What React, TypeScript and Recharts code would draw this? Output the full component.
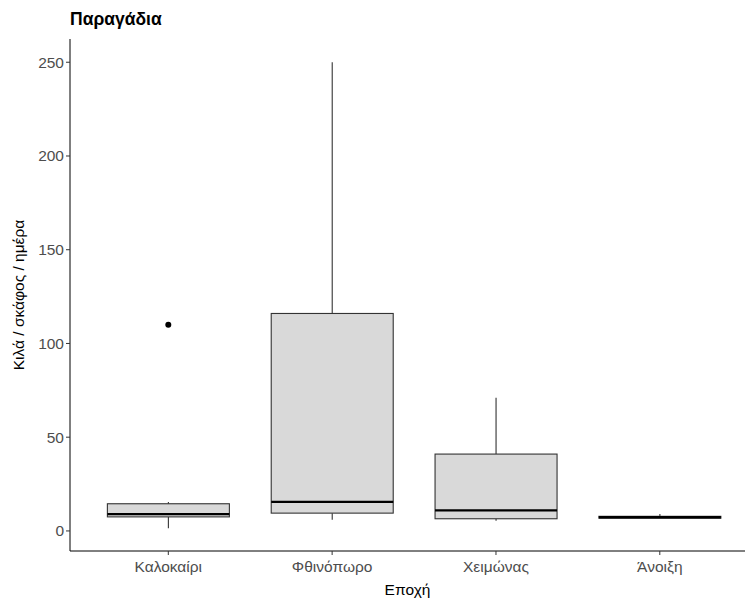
import React from 'react';
import { ComposedChart, Bar, Scatter, XAxis, YAxis } from 'recharts';

const seasons = ['Καλοκαίρι', 'Φθινόπωρο', 'Χειμώνας', 'Άνοιξη'];
const mins = [1.5, 6, 5.5, 6.8];
const q1s = [7.5, 9.5, 6.5, 6.8];
const medians = [9, 15.5, 11, 7.3];
const q3s = [14.5, 116, 41, 7.8];
const maxs = [15.5, 250, 71, 9];
const outliers = [{ pos: 1, value: 110 }];
const yTicks = [0, 50, 100, 150, 200, 250];

const boxData = seasons.map((s, i) => ({
  pos: i + 1,
  season: s,
  min: mins[i],
  q1: q1s[i],
  median: medians[i],
  q3: q3s[i],
  max: maxs[i],
  range: [mins[i], maxs[i]],
}));

const BoxShape = (props: any) => {
  const { x, y, width, height, payload } = props;
  const { min, q1, median, q3, max } = payload;
  const py = (v: number) => y + (height * (max - v)) / (max - min);
  const cx = x + width / 2;
  return (
    <g>
      <line x1={cx} x2={cx} y1={py(max)} y2={py(q3)} stroke="#333" strokeWidth={1.1} />
      <line x1={cx} x2={cx} y1={py(q1)} y2={py(min)} stroke="#333" strokeWidth={1.1} />
      <rect x={x} y={py(q3)} width={width} height={Math.max(py(q1) - py(q3), 0.5)} fill="#d9d9d9" stroke="#333" strokeWidth={1.1} />
      <line x1={x} x2={x + width} y1={py(median)} y2={py(median)} stroke="#000" strokeWidth={2.3} />
    </g>
  );
};

const App = () => (
  <div style={{ position: 'absolute', left: 0, top: 0, width: 745, height: 599, background: '#fff', fontFamily: 'Liberation Sans, Arial, sans-serif' }}>
    <div style={{ position: 'absolute', left: 70, top: 9, fontSize: 17.5, fontWeight: 'bold', color: '#000' }}>Παραγάδια</div>
    <ComposedChart width={745} height={599} data={boxData} margin={{ top: 39, right: 0, bottom: 0, left: 10 }}>
      <XAxis
        dataKey="pos"
        type="number"
        domain={[0.4, 4.52]}
        ticks={[1, 2, 3, 4]}
        allowDataOverflow
        tickFormatter={(v: number) => seasons[v - 1]}
        height={48}
        stroke="#000"
        tickSize={4}
        tickMargin={6}
        tick={{ fill: '#4d4d4d', fontSize: 15.5 }}
        tickLine={{ stroke: '#333' }}
        label={{ value: 'Εποχή', position: 'insideBottom', offset: 4, fill: '#000', fontSize: 15.5 }}
      />
      <YAxis
        type="number"
        domain={[-10.7, 262.4]}
        ticks={yTicks}
        allowDataOverflow
        width={60}
        stroke="#000"
        tickSize={4}
        tick={{ fill: '#4d4d4d', fontSize: 15.5 }}
        tickLine={{ stroke: '#333' }}
        label={{ value: 'Κιλά / σκάφος / ημέρα', angle: -90, position: 'insideLeft', offset: 8, fill: '#000', fontSize: 15.5, style: { textAnchor: 'middle' } }}
      />
      <Bar dataKey="range" barSize={122} shape={BoxShape} isAnimationActive={false} />
      <Scatter data={outliers} dataKey="value" fill="#000" isAnimationActive={false} shape={(p: any) => <circle cx={p.cx} cy={p.cy} r={3} fill="#000" />} />
    </ComposedChart>
  </div>
);

export default App;
